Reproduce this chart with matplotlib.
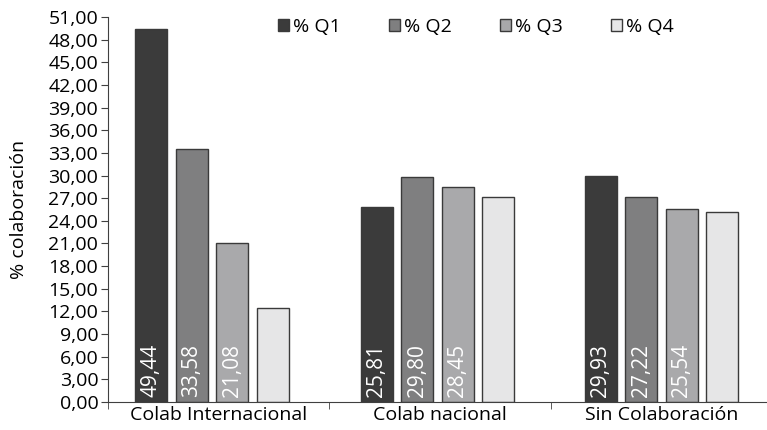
import numpy as np
import matplotlib.pyplot as plt

plt.rcParams['font.family'] = ['Open Sans', 'DejaVu Sans']

# data
categorias = ['Colab Internacional', 'Colab nacional', 'Sin Colaboración']
series = ['% Q1', '% Q2', '% Q3', '% Q4']
q1 = [49.44, 25.81, 29.93]
q2 = [33.58, 29.80, 27.22]
q3 = [21.08, 28.45, 25.54]
q4 = [12.50, 27.20, 25.20]
colores = ['#3b3b3b', '#7f7f80', '#a9a9ab', '#e6e6e7']

fig = plt.figure(figsize=(7.67, 4.30), dpi=100)
ax = fig.add_axes([108 / 767, 28 / 430, 664 / 767, 385 / 430])

x = np.arange(len(categorias))
desp = np.array([-0.03, -0.012, 0.0])  # pequeño desplazamiento de cada grupo
w = 0.144
paso = 0.183
for i, (vals, c, nom) in enumerate(zip([q1, q2, q3, q4], colores, series)):
    pos = x + desp + (i - 1.5) * paso
    ax.bar(pos, vals, width=w, color=c, edgecolor='#3a3a3a', linewidth=1.0, label=nom)
    for p, v in zip(pos, vals):
        if i < 3:
            ax.text(p, 0.6, ('%.2f' % v).replace('.', ','), rotation=90,
                    ha='center', va='bottom', color='white', fontsize=15)

ax.set_xlim(-0.5, 2.5)
ax.set_ylim(0, 51)
ticks = np.arange(0, 52, 3)
ax.set_yticks(ticks)
ax.set_yticklabels([('%.2f' % t).replace('.', ',') for t in ticks], fontsize=14)
ax.set_xticks(x)
ax.set_xticklabels(categorias, fontsize=14)
ax.set_xticks([-0.5, 0.5, 1.5, 2.5], minor=True)
ax.tick_params(axis='x', which='major', length=0, pad=3)
ax.tick_params(axis='x', which='minor', length=5, color='#404040')
ax.tick_params(axis='y', length=5, color='#404040', pad=2)
ax.set_ylabel('% colaboración', fontsize=14)
ax.yaxis.set_label_coords(-0.12, 0.5)
for s in ['top', 'right']:
    ax.spines[s].set_visible(False)
ax.spines['left'].set_color('#404040')
ax.spines['bottom'].set_color('#404040')

ax.legend(loc='center', bbox_to_anchor=(368 / 664, (430 - 27 - 28) / 385), ncol=4, frameon=False,
          fontsize=14, handlelength=0.55, handleheight=0.55, handletextpad=0.25,
          columnspacing=2.45, borderpad=0)

fig.savefig('out.png', dpi=100)
